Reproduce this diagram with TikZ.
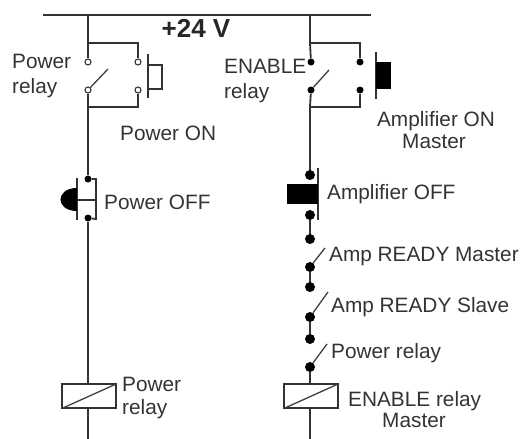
\documentclass[tikz,border=0pt]{standalone}
\usepackage{fontspec}
\setmainfont{Liberation Sans}
\tikzset{
  wire/.style={line width=1.8pt,color=black!80},
  thin wire/.style={line width=1.3pt,color=black!75},
  open contact/.style={circle,draw=black!80,fill=white,line width=1.1pt,inner sep=0pt,minimum size=6pt},
  solid contact/.style={circle,fill=black,inner sep=0pt,minimum size=7pt},
  big contact/.style={circle,fill=black,inner sep=0pt,minimum size=10pt},
  lbl/.style={inner sep=0pt,text height=15pt,text depth=0pt,font=\fontsize{20.8}{24}\selectfont,text=black!80},
  coil/.style={draw=black!80,line width=1.8pt,fill=white,minimum width=54pt,minimum height=24pt,inner sep=0pt},
  block/.style={fill=black,inner sep=0pt}
}
\begin{document}
\begin{tikzpicture}[x=1pt,y=-1pt]
\useasboundingbox (0,0) rectangle (520,439);
% supply bus
\coordinate (busL) at (43,15);
\coordinate (busR) at (371,15);
\coordinate (tapA) at (88,15);
\coordinate (tapB) at (310,15);
\draw[wire] (busL) -- (busR);
% left rung
\coordinate (a1) at (88,43); \coordinate (a2) at (138,43);
\coordinate (a3) at (88,107); \coordinate (a4) at (138,107);
\node[open contact] (pr1) at (88,62) {};
\node[open contact] (pr2) at (88,90) {};
\node[open contact] (pb1) at (138,62) {};
\node[open contact] (pb2) at (138,90) {};
\coordinate (prblade) at (108,69);
\draw[wire] (tapA) -- (pr1);
\draw[wire] (a1) -- (a2) -- (pb1);
\draw[wire] (pb2) -- (a4) -- (a3);
\draw[wire] (pr2) -- (a3);
\draw[thin wire] (pr2) -- (prblade);
% Power ON button
\coordinate (onT) at (148,54); \coordinate (onB) at (148,98);
\coordinate (on1) at (148,65); \coordinate (on2) at (162,65);
\coordinate (on3) at (162,89); \coordinate (on4) at (148,89);
\draw[wire] (onT) -- (onB);
\draw[wire] (on1) -- (on2) -- (on3) -- (on4);
% Power OFF button
\node[solid contact] (off1) at (88,179) {};
\node[solid contact] (off2) at (88,218) {};
\coordinate (offT) at (77,178); \coordinate (offB) at (77,220);
\coordinate (off3) at (96,179); \coordinate (off4) at (96,219);
\coordinate (offM) at (96,200); \coordinate (offK) at (77,200);
\draw[wire] (a3) -- (off1);
\draw[wire] (off1) -- (off3) -- (off4) -- (off2);
\draw[wire] (offT) -- (offB);
\draw[wire] (offK) -- (offM);
\fill[black] (77,188) .. controls (55,188) and (55,211) .. (77,211) -- cycle;
% left coil
\node[coil] (coilA) at (89,396) {};
\coordinate (coilAend) at (88,439);
\draw[wire] (off2) -- (coilA.north -| off2);
\draw[wire] (coilA.south -| off2) -- (coilAend);
\draw[thin wire] (coilA.south west) ++(2,-1) -- ([shift={(-1,1)}]coilA.north east);
% right rung
\coordinate (b1) at (310,43); \coordinate (b2) at (360,43);
\coordinate (b3) at (310,107); \coordinate (b4) at (360,107);
\node[solid contact] (en1) at (311,62) {};
\node[solid contact] (en2) at (311,90) {};
\node[solid contact] (mb1) at (360,62) {};
\node[solid contact] (mb2) at (360,90) {};
\coordinate (enblade) at (329,70);
\draw[wire] (tapB) -- (b1) -- (en1);
\draw[wire] (b1) -- (b2) -- (mb1);
\draw[wire] (mb2) -- (b4) -- (b3);
\draw[wire] (en2) -- (b3);
\draw[thin wire] (en2) -- (enblade);
% Amplifier ON button
\coordinate (monT) at (376,52); \coordinate (monB) at (376,99);
\draw[wire] (monT) -- (monB);
\node[block,minimum width=15pt,minimum height=27pt] (monBlock) at (383.5,75.5) {};
% Amplifier OFF button
\node[big contact] (moff1) at (310,175) {};
\node[big contact] (moff2) at (310,215) {};
\coordinate (moffT) at (318,168); \coordinate (moffB) at (318,220);
\draw[wire] (b3) -- (moff1);
\draw[wire] (moffT) -- (moffB);
\node[block,minimum width=31pt,minimum height=20pt] (moffBlock) at (302.5,194) {};
% series contacts
\node[big contact] (r1) at (310,239) {};
\node[big contact] (r2) at (310,267) {};
\node[big contact] (s1) at (310,287) {};
\node[big contact] (s2) at (310,317) {};
\node[big contact] (p1) at (310,339) {};
\node[big contact] (p2) at (310,367) {};
\coordinate (rblade) at (325,248);
\coordinate (sblade) at (328,292);
\coordinate (pblade) at (327,344);
\draw[wire] (moff2) -- (r1);
\draw[wire] (r2) -- (s1);
\draw[wire] (s2) -- (p1);
\draw[thin wire] (r2) -- (rblade);
\draw[thin wire] (s2) -- (sblade);
\draw[thin wire] (p2) -- (pblade);
% right coil
\node[coil] (coilB) at (311,396) {};
\coordinate (coilBend) at (310,439);
\draw[wire] (p2) -- (coilB.north -| p2);
\draw[wire] (coilB.south -| p2) -- (coilBend);
\draw[thin wire] (coilB.south west) ++(2,-1) -- ([shift={(-1,1)}]coilB.north east);
% labels
\node[inner sep=0pt,text height=19pt,text depth=0pt,font=\bfseries\fontsize{26}{30}\selectfont,text=black!85] (vlabel) at (196,28) {+24 V};
\node[lbl,anchor=west] (t1) at (12,61) {Power};
\node[lbl,anchor=west] (t2) at (12,86) {relay};
\node[lbl,anchor=west] (t3) at (120,133) {Power ON};
\node[lbl,anchor=west] (t4) at (104,202) {Power OFF};
\node[lbl,anchor=west] (t5) at (224,66) {ENABLE};
\node[lbl,anchor=west] (t6) at (224,91) {relay};
\node[lbl] (t7) at (436,119) {Amplifier ON};
\node[lbl] (t8) at (434,141) {Master};
\node[lbl,anchor=west] (t9) at (327,192) {Amplifier OFF};
\node[lbl,anchor=west] (t10) at (329,254) {Amp READY Master};
\node[lbl,anchor=west] (t11) at (331,305) {Amp READY Slave};
\node[lbl,anchor=west] (t12) at (331,351) {Power relay};
\node[lbl,anchor=west] (t13) at (348,399) {ENABLE relay};
\node[lbl] (t14) at (414,420) {Master};
\node[lbl,anchor=west] (t15) at (122,384) {Power};
\node[lbl,anchor=west] (t16) at (122,407) {relay};
\end{tikzpicture}
\end{document}
